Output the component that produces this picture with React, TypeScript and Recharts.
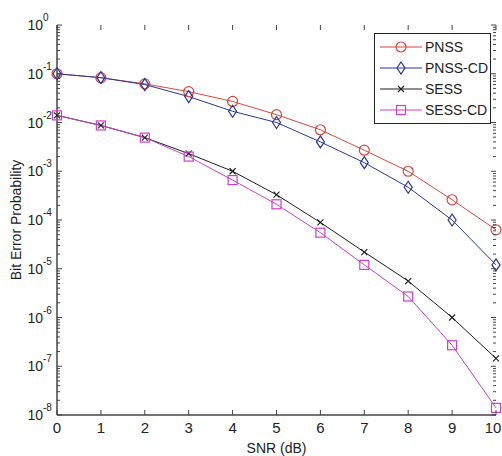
import { LineChart, Line, XAxis, YAxis, Legend } from 'recharts';

const SNR = [0, 1, 2, 3, 4, 5, 6, 7, 8, 9, 10];
const PNSS = [0.1, 0.083, 0.062, 0.043, 0.027, 0.0145, 0.0071, 0.0027, 0.001, 2.6e-4, 6.3e-5];
const PNSS_CD = [0.1, 0.083, 0.06, 0.034, 0.017, 0.01, 0.004, 0.0015, 4.7e-4, 1e-4, 1.2e-5];
const SESS = [0.014, 0.0087, 0.0049, 0.0023, 0.001, 3.3e-4, 8.9e-5, 2.2e-5, 5.6e-6, 1e-6, 1.45e-7];
const SESS_CD = [0.014, 0.0087, 0.0049, 0.002, 6.6e-4, 2.1e-4, 5.5e-5, 1.2e-5, 2.7e-6, 2.7e-7, 1.4e-8];

const X_TICKS = [0, 1, 2, 3, 4, 5, 6, 7, 8, 9, 10];
const EXPONENTS = [-8, -7, -6, -5, -4, -3, -2, -1, 0];
const MINOR_MULTS = [2, 3, 4, 5, 6, 7, 8, 9];

const Y_TICKS: number[] = [];
EXPONENTS.forEach(e => {
  Y_TICKS.push(Math.pow(10, e));
  if (e < 0) MINOR_MULTS.forEach(m => Y_TICKS.push(m * Math.pow(10, e)));
});

const data = SNR.map((snr, i) => ({
  snr,
  pnss: PNSS[i],
  pnssCd: PNSS_CD[i],
  sess: SESS[i],
  sessCd: SESS_CD[i],
}));

// plot box (chart margins + axis sizes below give these)
const PLOT_LEFT = 57;
const PLOT_RIGHT = 496;
const PLOT_TOP = 25;
const PLOT_BOTTOM = 415;
const AXIS = '#444';
const TEXT = '#222';

type Shape = 'circle' | 'diamond' | 'x' | 'square';

const SERIES: { key: string; name: string; color: string; shape: Shape }[] = [
  { key: 'pnss', name: 'PNSS', color: '#d8473c', shape: 'circle' },
  { key: 'pnssCd', name: 'PNSS-CD', color: '#27379a', shape: 'diamond' },
  { key: 'sess', name: 'SESS', color: '#1e1e1e', shape: 'x' },
  { key: 'sessCd', name: 'SESS-CD', color: '#cc3fcc', shape: 'square' },
];

function Marker({ shape, color, cx, cy }: { shape: Shape; color: string; cx: number; cy: number }) {
  if (shape === 'circle') return <circle cx={cx} cy={cy} r={5} fill="none" stroke={color} strokeWidth={1.2} />;
  if (shape === 'diamond')
    return <path d={`M${cx},${cy - 6}L${cx + 4},${cy}L${cx},${cy + 6}L${cx - 4},${cy}Z`} fill="none" stroke={color} strokeWidth={1.2} />;
  if (shape === 'square') return <rect x={cx - 4.5} y={cy - 4.5} width={9} height={9} fill="none" stroke={color} strokeWidth={1.2} />;
  return <path d={`M${cx - 3},${cy - 3}L${cx + 3},${cy + 3}M${cx - 3},${cy + 3}L${cx + 3},${cy - 3}`} stroke={color} strokeWidth={1.1} />;
}

function YTick(props: any) {
  const { y, payload } = props;
  const e = Math.log10(payload.value);
  const major = Math.abs(e - Math.round(e)) < 1e-6;
  const len = major ? 5 : 3;
  return (
    <g>
      <line x1={PLOT_LEFT} x2={PLOT_LEFT + len} y1={y} y2={y} stroke={AXIS} />
      <line x1={PLOT_RIGHT - len} x2={PLOT_RIGHT} y1={y} y2={y} stroke={AXIS} />
      {major && (
        <text x={PLOT_LEFT - 14} y={y + 5} textAnchor="end" fontSize={14} fill={TEXT}>10</text>
      )}
      {major && (
        <text x={PLOT_LEFT - 14} y={y - 4} fontSize={10} fill={TEXT}>{Math.round(e)}</text>
      )}
    </g>
  );
}

function XTick(props: any) {
  const { x, payload } = props;
  const last = payload.value === X_TICKS[X_TICKS.length - 1];
  return (
    <g>
      <line x1={x} x2={x} y1={PLOT_BOTTOM} y2={PLOT_BOTTOM - 5} stroke={AXIS} />
      <line x1={x} x2={x} y1={PLOT_TOP} y2={PLOT_TOP + 5} stroke={AXIS} />
      <text x={last ? x - 3 : x} y={PLOT_BOTTOM + 18} textAnchor="middle" fontSize={15} fill={TEXT}>{payload.value}</text>
    </g>
  );
}

function LegendBox() {
  return (
    <div style={{ border: `1px solid ${TEXT}`, background: '#fff', width: 115, height: 89, boxSizing: 'content-box' }}>
      <div style={{ paddingTop: 2 }}>
        {SERIES.map(s => (
          <div key={s.key} style={{ display: 'flex', alignItems: 'center', height: 21 }}>
            <svg width={42} height={14} style={{ marginLeft: 5 }}>
              <line x1={0} x2={42} y1={7} y2={7} stroke={s.color} strokeWidth={1} />
              <Marker shape={s.shape} color={s.color} cx={21} cy={7} />
            </svg>
            <span style={{ marginLeft: 3, fontSize: 14, color: TEXT, lineHeight: '14px' }}>{s.name}</span>
          </div>
        ))}
      </div>
    </div>
  );
}

export default function App() {
  return (
    <div style={{ position: 'absolute', left: 0, top: 0, width: 502, height: 456, background: '#fff' }}>
      <LineChart
        width={502}
        height={456}
        data={data}
        margin={{ top: PLOT_TOP, right: 502 - PLOT_RIGHT, left: 0, bottom: 0 }}
        style={{ fontFamily: '"Liberation Sans", Arial, sans-serif' }}
      >
        <XAxis
          dataKey="snr"
          type="number"
          domain={[0, 10]}
          ticks={X_TICKS}
          interval={0}
          height={456 - PLOT_BOTTOM}
          tickSize={0}
          tickMargin={0}
          tick={<XTick />}
          axisLine={{ stroke: AXIS, strokeWidth: 1.5 }}
          label={{ value: 'SNR (dB)', position: 'insideBottom', offset: 3, fontSize: 14, fill: TEXT }}
        />
        <XAxis xAxisId="top" orientation="top" dataKey="snr" type="number" domain={[0, 10]} height={0} tick={false} tickLine={false} axisLine={{ stroke: AXIS, strokeWidth: 1.5 }} />
        <YAxis
          type="number"
          scale="log"
          domain={[1e-8, 1]}
          allowDataOverflow
          ticks={Y_TICKS}
          interval={0}
          width={PLOT_LEFT}
          tickSize={0}
          tickMargin={0}
          tick={<YTick />}
          axisLine={{ stroke: AXIS, strokeWidth: 1.5 }}
          label={{ value: 'Bit Error Probability', angle: -90, position: 'insideLeft', offset: 16, fontSize: 14, fill: TEXT, style: { textAnchor: 'middle' } }}
        />
        <YAxis yAxisId="right" orientation="right" width={0} tick={false} tickLine={false} axisLine={{ stroke: AXIS, strokeWidth: 1.5 }} />
        {SERIES.map(s => (
          <Line
            key={s.key}
            dataKey={s.key}
            name={s.name}
            stroke={s.color}
            strokeWidth={1}
            isAnimationActive={false}
            dot={(p: any) => <Marker key={`${s.key}-${p.index}`} shape={s.shape} color={s.color} cx={p.cx} cy={p.cy} />}
          />
        ))}
        <Legend
          layout="horizontal"
          verticalAlign="middle"
          align="center"
          content={<LegendBox />}
          wrapperStyle={{ left: 374, top: 33, width: 117 }}
        />
      </LineChart>
    </div>
  );
}
